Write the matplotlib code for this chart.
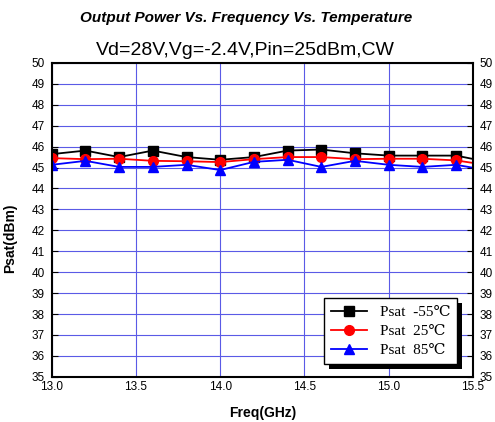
import matplotlib
matplotlib.use("Agg")
import matplotlib.pyplot as plt
from matplotlib.patches import Rectangle

# === data ===
freq = [13.0, 13.2, 13.4, 13.6, 13.8, 14.0, 14.2, 14.4, 14.6, 14.8, 15.0, 15.2, 15.4, 15.6]
psat_m55 = [45.64, 45.81, 45.50, 45.81, 45.50, 45.37, 45.50, 45.81, 45.86, 45.68, 45.57, 45.57, 45.57, 45.25]
psat_25 = [45.45, 45.40, 45.42, 45.32, 45.30, 45.26, 45.40, 45.50, 45.50, 45.40, 45.42, 45.42, 45.34, 45.10]
psat_85 = [45.13, 45.32, 45.03, 45.03, 45.13, 44.88, 45.27, 45.37, 45.03, 45.32, 45.13, 45.03, 45.13, 44.85]
labels = ["Psat  -55\u2103", "Psat  25\u2103", "Psat  85\u2103"]

fig = plt.figure(figsize=(4.95, 4.22), dpi=100)
ax = fig.add_axes([0.1045, 0.107, 0.851, 0.744])

ax.plot(freq, psat_m55, color="black", marker="s", ms=6.5, lw=1.3, label=labels[0])
ax.plot(freq, psat_25, color="red", marker="o", ms=7, lw=1.3, label=labels[1])
ax.plot(freq, psat_85, color="blue", marker="^", ms=7.5, lw=1.3, label=labels[2])

ax.set_xlim(13.0, 15.5)
ax.set_ylim(35, 50)
ax.set_xticks([13.0, 13.5, 14.0, 14.5, 15.0, 15.5])
ax.set_xticklabels(["13.0", "13.5", "14.0", "14.5", "15.0", "15.5"])
ax.set_yticks(range(35, 51))
ax.grid(True, color="#5a5ae6", lw=0.8)
ax.set_axisbelow(True)
ax.tick_params(axis="y", direction="in", length=4, labelsize=8.5, left=True, right=True,
               labelleft=True, labelright=True, pad=5)
ax.tick_params(axis="x", direction="in", length=0, labelsize=8.5, pad=3)
for t in ax.get_xticklabels() + ax.get_yticklabels():
    t.set_family("Liberation Sans")
for s in ax.spines.values():
    s.set_linewidth(1.5)

ax.set_xlabel("Freq(GHz)", fontsize=10, fontweight="bold", family="Liberation Sans", labelpad=9)
ax.set_ylabel("Psat(dBm)", fontsize=10, fontweight="bold", family="Liberation Sans", labelpad=4)
ax.yaxis.set_label_coords(-0.082, 0.443)

fig.text(0.497, 0.958, "Output Power Vs. Frequency Vs. Temperature", ha="center", va="center",
         fontsize=11, fontweight="bold", style="italic", family="Liberation Sans")
fig.text(0.495, 0.881, "Vd=28V,Vg=-2.4V,Pin=25dBm,CW", ha="center", va="center",
         fontsize=14, family="Liberation Sans")

leg = ax.legend(loc="lower right", bbox_to_anchor=(0.962, 0.041), fancybox=False, framealpha=1,
                edgecolor="black", handlelength=2.4, borderpad=0.45, labelspacing=0.35,
                handletextpad=0.8, borderaxespad=0,
                prop={"family": ["Liberation Serif", "DejaVu Serif"], "size": 11})
leg.get_frame().set_linewidth(1.0)
leg.set_zorder(5)

# shadow behind the legend box
fig.canvas.draw()
bb = leg.get_window_extent()
shadow = Rectangle((bb.x0 + 5, bb.y0 - 5), bb.width, bb.height, transform=None,
                   facecolor="black", edgecolor="none", zorder=4)
ax.add_artist(shadow)

fig.savefig("out.png", dpi=100)
